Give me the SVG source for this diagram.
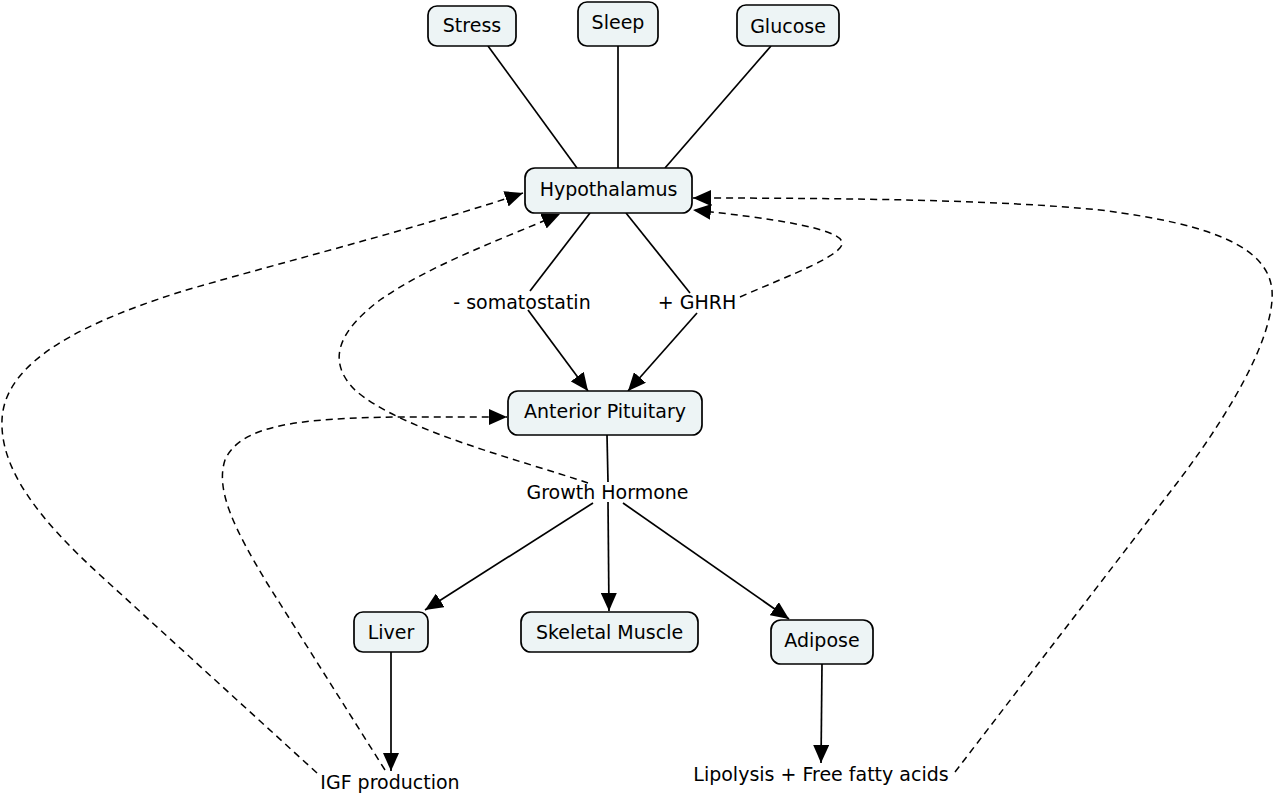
<svg xmlns="http://www.w3.org/2000/svg" width="1280" height="799" viewBox="0 0 1280 799">
<style>
.node rect{fill:#edf4f5;stroke:#000;stroke-width:1.7}
text{font-family:"DejaVu Sans",Verdana,sans-serif;font-size:19px;fill:#000;text-anchor:middle}
.solid{fill:none;stroke:#000;stroke-width:1.7}
.dash{fill:none;stroke:#000;stroke-width:1.5;stroke-dasharray:7 5}
</style>
<defs>
<marker id="ah" viewBox="0 0 18 16" refX="18" refY="8" markerWidth="18" markerHeight="16" markerUnits="userSpaceOnUse" orient="auto">
<path d="M0,0 L18,8 L0,16 Z" fill="#000" stroke="none"/>
</marker>
</defs>
<g id="connectors">
<line class="solid" x1="488" y1="46" x2="577" y2="168"/>
<line class="solid" x1="618" y1="46" x2="618" y2="168"/>
<line class="solid" x1="771" y1="46" x2="665" y2="168"/>
<line class="solid" x1="590" y1="213" x2="530" y2="291"/>
<line class="solid" x1="528" y1="310" x2="588" y2="391" marker-end="url(#ah)"/>
<line class="solid" x1="626" y1="213" x2="690" y2="293"/>
<line class="solid" x1="697" y1="313" x2="628" y2="391" marker-end="url(#ah)"/>
<line class="solid" x1="607" y1="435" x2="608" y2="482"/>
<line class="solid" x1="593" y1="503" x2="425" y2="610" marker-end="url(#ah)"/>
<line class="solid" x1="608" y1="502" x2="609" y2="611" marker-end="url(#ah)"/>
<line class="solid" x1="623" y1="503" x2="789" y2="619" marker-end="url(#ah)"/>
<line class="solid" x1="391" y1="652" x2="391" y2="771" marker-end="url(#ah)"/>
<line class="solid" x1="822" y1="664" x2="821" y2="763" marker-end="url(#ah)"/>
<path class="dash" d="M317,773 L100,575 C40,520 0,470 2,420 C4,370 60,330 180,292 C260,268 430,225 523,193" marker-end="url(#ah)"/>
<path class="dash" d="M588,483 C520,460 400,430 355,390 C325,360 340,330 380,300 C430,265 500,240 560,214" marker-end="url(#ah)"/>
<path class="dash" d="M385,770 L267,583 C235,530 215,490 225,460 C240,425 300,418 400,417 L507,417" marker-end="url(#ah)"/>
<path class="dash" d="M955,772 L1177,483 C1240,400 1275,330 1272,290 C1268,250 1220,225 1100,210 C1000,200 850,198 693,198" marker-end="url(#ah)"/>
<path class="dash" d="M740,297 C790,275 845,255 842,242 C838,228 770,218 693,210" marker-end="url(#ah)"/>
</g>
<g id="stress" class="node"><rect x="428" y="6" width="88" height="40" rx="9"/><text x="472" y="32">Stress</text></g>
<g id="sleep" class="node"><rect x="578" y="2" width="80" height="44" rx="9"/><text x="618" y="29">Sleep</text></g>
<g id="glucose" class="node"><rect x="737" y="5" width="102" height="41" rx="9"/><text x="788" y="33">Glucose</text></g>
<g id="hypothalamus" class="node"><rect x="525" y="168" width="167" height="45" rx="10"/><text x="608.5" y="196">Hypothalamus</text></g>
<g id="anterior-pituitary" class="node"><rect x="508" y="391" width="194" height="44" rx="10"/><text x="605" y="418">Anterior Pituitary</text></g>
<g id="liver" class="node"><rect x="354" y="612" width="74" height="40" rx="9"/><text x="391" y="639">Liver</text></g>
<g id="skeletal-muscle" class="node"><rect x="521" y="612" width="177" height="40" rx="10"/><text x="609.5" y="639">Skeletal Muscle</text></g>
<g id="adipose" class="node"><rect x="771" y="620" width="102" height="44" rx="10"/><text x="822" y="647">Adipose</text></g>
<g id="label-somatostatin"><text x="522" y="309">- somatostatin</text></g>
<g id="label-ghrh"><text x="697" y="309">+ GHRH</text></g>
<g id="growth-hormone"><text x="607.5" y="499">Growth Hormone</text></g>
<g id="igf-production"><text x="390" y="789">IGF production</text></g>
<g id="lipolysis"><text x="821" y="781">Lipolysis + Free fatty acids</text></g>
</svg>
